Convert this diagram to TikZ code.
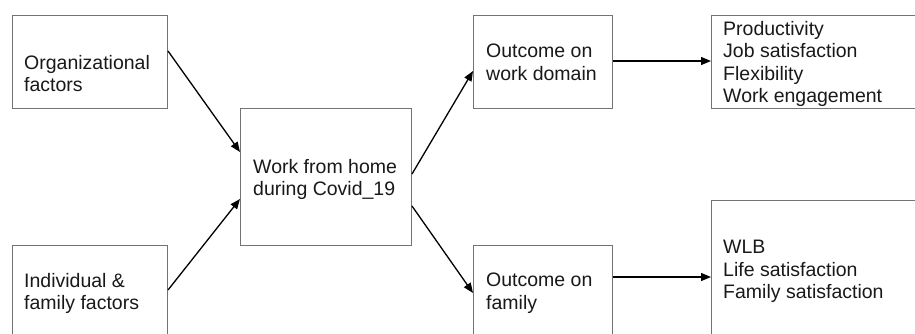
\documentclass[tikz,border=0pt]{standalone}
\usepackage{fontspec}
\setmainfont{Liberation Sans}
\usetikzlibrary{arrows.meta}
\begin{document}
\begin{tikzpicture}[x=1pt,y=-1pt,
  box/.style={draw=black!55,line width=1pt,inner sep=0pt,anchor=north west},
  label/.style={anchor=north west,inner sep=0pt,align=left,text=black!90,
    font=\fontsize{19.5}{22.5}\selectfont},
  conn/.style={line width=1.3pt,-{Triangle[length=10pt,width=8pt]}}]
\useasboundingbox (0,0) rectangle (915,333);
\clip (0,0) rectangle (915,333);
\fill[white] (0,0) rectangle (915,333);
% boxes
\node[box,minimum width=155pt,minimum height=93pt] (org) at (12,15) {};
\node[box,minimum width=155pt,minimum height=100pt] (ind) at (12,245) {};
\node[box,minimum width=171pt,minimum height=137pt] (wfh) at (240,108) {};
\node[box,minimum width=139pt,minimum height=93pt] (ow) at (473,15) {};
\node[box,minimum width=139pt,minimum height=100pt] (of) at (473,245) {};
\node[box,minimum width=220pt,minimum height=93pt] (rt) at (711,15) {};
\node[box,minimum width=220pt,minimum height=150pt] (rb) at (711,200) {};
% texts
\node[label] (orgt) at (24,55) {Organizational\\factors};
\node[label] (indt) at (24,273) {Individual \&\\family factors};
\node[label] (wfht) at (253,159) {Work from home\\during Covid\_19};
\node[label] (owt) at (486,44) {Outcome on\\work domain};
\node[label] (oft) at (486,273) {Outcome on\\family};
\node[label] (rtt) at (723,21) {Productivity\\Job satisfaction\\Flexibility\\Work engagement};
\node[label] (rbt) at (723,240) {WLB\\Life satisfaction\\Family satisfaction};
% connectors
\draw[conn] ([yshift=-36pt]org.north east) -- ([yshift=-44pt]wfh.north west);
\draw[conn] ([yshift=-45pt]ind.north east) -- ([yshift=-91pt]wfh.north west);
\draw[conn] ([yshift=-66pt]wfh.north east) -- ([yshift=-56pt]ow.north west);
\draw[conn] ([yshift=-98pt]wfh.north east) -- ([yshift=-48pt]of.north west);
\draw[conn] ([yshift=-46pt]ow.north east) -- ([yshift=-46pt]rt.north west);
\draw[conn] ([yshift=-32pt]of.north east) -- ([yshift=-77pt]rb.north west);
\end{tikzpicture}
\end{document}
